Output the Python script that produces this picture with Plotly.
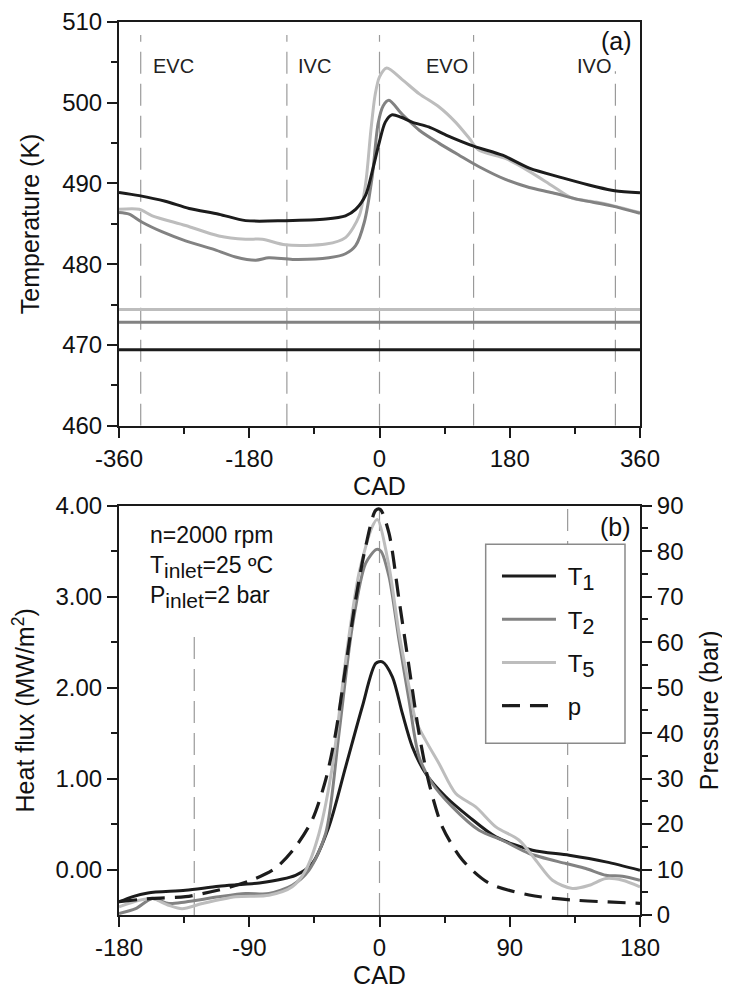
import plotly.graph_objects as go

# ---------------- data: panel (a) temperatures ----------------
t1_cad = [-360, -332, -296, -263, -222, -185, -130, -74, -47, -33, -19, -10, 0, 8, 17, 30, 45, 68, 92, 131, 170, 207, 253, 299, 325, 360]
t1_temp = [488.9, 488.5, 487.8, 486.9, 486.2, 485.4, 485.4, 485.6, 486.0, 486.8, 488.6, 491.5, 495.2, 497.6, 498.5, 498.2, 497.6, 497.0, 496.0, 494.6, 493.5, 491.9, 490.7, 489.6, 489.1, 488.85]

t2_cad = [-360, -346, -328, -300, -268, -231, -199, -171, -153, -120, -70, -47, -33, -21, -10, -2, 5, 13, 31, 55, 82, 110, 137, 174, 207, 239, 276, 322, 360]
t2_temp = [486.4, 486.2, 485.2, 484.0, 482.9, 481.9, 480.9, 480.5, 480.8, 480.6, 480.8, 481.3, 482.3, 485.2, 490.9, 497.4, 499.6, 500.3, 498.6, 496.6, 495.0, 493.5, 492.1, 490.5, 489.5, 488.85, 488.0, 487.2, 486.3]

t5_cad = [-360, -332, -314, -268, -222, -185, -162, -130, -74, -47, -28, -19, -12, -6, 0, 10, 31, 55, 82, 105, 124, 137, 174, 207, 239, 266, 299, 325, 360]
t5_temp = [486.8, 486.8, 486.0, 484.8, 483.5, 483.1, 483.1, 482.4, 482.5, 483.3, 486.0, 490.1, 496.5, 501.0, 503.2, 504.3, 502.9, 501.1, 499.5, 497.6, 495.6, 494.15, 493.1, 491.5, 489.7, 488.2, 487.7, 487.2, 486.4]

# constant reference temperatures (horizontal lines)
flat_cad = [-360, 360]
t1_flat = [469.4, 469.4]
t2_flat = [472.8, 472.8]
t5_flat = [474.4, 474.4]

# valve events (CAD) and labels
valve_cad_a = [-330, -128, 0, 130, 326]
valve_labels = ["EVC", "IVC", "EVO", "IVO"]
valve_label_cad = [-284, -90, 93, 296]

# ---------------- data: panel (b) heat flux and pressure ----------------
h1_cad = [-180, -171, -160, -134, -111, -83, -58, -46.5, -35, -23.4, -11.9, -2.6, 2, 8.9, 15.8, 22.7, 31.9, 45.8, 61.9, 80.4, 105.7, 131, 156.4, 180]
h1_flux = [-0.356, -0.30, -0.257, -0.228, -0.184, -0.147, -0.063, 0.066, 0.469, 1.129, 1.79, 2.266, 2.284, 2.119, 1.716, 1.349, 1.056, 0.80, 0.579, 0.359, 0.212, 0.157, 0.084, -0.008]

h2_cad = [-180, -168.5, -157, -145.6, -134, -111, -92.5, -76.4, -60.3, -48.8, -37.2, -28, -18.8, -9.6, -2, 1, 6.6, 13.5, 20.4, 27.3, 36.5, 50.3, 68.8, 84.9, 103.4, 128.8, 142.6, 156.4, 167.9, 180]
h2_flux = [-0.484, -0.43, -0.319, -0.374, -0.356, -0.30, -0.264, -0.264, -0.173, -0.008, 0.396, 1.496, 2.669, 3.366, 3.52, 3.50, 3.219, 2.52, 1.86, 1.24, 0.946, 0.689, 0.432, 0.322, 0.176, 0.066, 0.011, -0.063, -0.074, -0.118]

h5_cad = [-180, -166, -157, -145.6, -136.4, -122.5, -99.4, -76.4, -60.3, -51, -41.8, -32.6, -23.4, -14.2, -5, -1.5, 6.6, 13.5, 20.4, 25, 31.9, 41.1, 52.7, 66.5, 80.4, 96.5, 108, 119.5, 133.3, 144.9, 156.4, 167.9, 180]
h5_flux = [-0.41, -0.338, -0.32, -0.393, -0.43, -0.374, -0.30, -0.283, -0.19, -0.008, 0.396, 1.129, 2.30, 3.256, 3.77, 3.85, 3.33, 2.60, 2.01, 1.64, 1.42, 1.166, 0.836, 0.689, 0.469, 0.322, 0.102, -0.118, -0.209, -0.173, -0.099, -0.118, -0.191]

p_cad = [-180, -157, -134, -111, -88, -71.8, -58, -46.5, -37.2, -30.3, -23.4, -16.5, -9.6, -2.6, 0.5, 6.6, 13.5, 20.4, 27.3, 34.2, 43.4, 57.3, 75.7, 103.4, 133.3, 180]
p_bar = [2.92, 3.66, 4.03, 5.5, 7.7, 10.3, 15.0, 20.9, 29.7, 40.0, 54.6, 69.3, 81.0, 89.0, 89.2, 83.9, 69.3, 54.6, 40.0, 29.0, 19.4, 12.1, 7.0, 4.4, 3.3, 2.57]

valve_cad_b = [-128, 0, 130]

# tick labels
xa_ticks = [-360, -180, 0, 180, 360]
xa_ticktext = ["-360", "-180", "0", "180", "360"]
xb_ticks = [-180, -90, 0, 90, 180]
xb_ticktext = ["-180", "-90", "0", "90", "180"]
ya_ticks = [460, 470, 480, 490, 500, 510]
yb_ticks = [0, 1, 2, 3, 4]
yp_ticks = [0, 10, 20, 30, 40, 50, 60, 70, 80, 90]

# ---------------- styling ----------------
C1, C2, C5 = "#1c1c1c", "#828282", "#bdbdbd"
FONT = "Liberation Sans, Arial, Helvetica, sans-serif"
AX = "#1a1a1a"
LW = 3


def sub(s, size):
    return "<sub><span style='font-size:%dpx'>%s</span></sub>" % (size, s)


fig = go.Figure()

# panel (a)
for x, y, c in [(flat_cad, t5_flat, C5), (flat_cad, t2_flat, C2), (flat_cad, t1_flat, C1)]:
    fig.add_trace(go.Scatter(x=x, y=y, mode="lines", line=dict(color=c, width=LW),
                             showlegend=False, xaxis="x", yaxis="y", hoverinfo="skip"))
for x, y, c in [(t5_cad, t5_temp, C5), (t2_cad, t2_temp, C2), (t1_cad, t1_temp, C1)]:
    fig.add_trace(go.Scatter(x=x, y=y, mode="lines", line=dict(color=c, width=LW, shape="spline", smoothing=0.8),
                             showlegend=False, xaxis="x", yaxis="y"))

# panel (b)
NB = "\u00a0"
fig.add_trace(go.Scatter(x=h1_cad, y=h1_flux, mode="lines", name=NB + "T" + sub("1", 22), legendgroup="a",
                         line=dict(color=C1, width=LW, shape="spline", smoothing=0.8), xaxis="x2", yaxis="y2"))
fig.add_trace(go.Scatter(x=h2_cad, y=h2_flux, mode="lines", name=NB + "T" + sub("2", 22), legendgroup="b",
                         line=dict(color=C2, width=LW, shape="spline", smoothing=0.8), xaxis="x2", yaxis="y2"))
fig.add_trace(go.Scatter(x=h5_cad, y=h5_flux, mode="lines", name=NB + "T" + sub("5", 22), legendgroup="c",
                         line=dict(color=C5, width=LW, shape="spline", smoothing=0.8), xaxis="x2", yaxis="y2"))
fig.add_trace(go.Scatter(x=p_cad, y=p_bar, mode="lines", name=NB + "p", legendgroup="d",
                         line=dict(color=C1, width=3.2, dash="18px,10px", shape="spline", smoothing=0.8),
                         xaxis="x2", yaxis="y3"))

# valve-event dashed lines
shapes = []
for v in valve_cad_a:
    top = 503.9 if v == 326 else 508.4
    shapes.append(dict(type="line", xref="x", yref="y", x0=v, x1=v, y0=460, y1=top,
                       line=dict(color="#9a9a9a", width=1.2, dash="22px,10px"), layer="below"))
for v in valve_cad_b:
    top = 2.6 if v == -128 else 4.0
    shapes.append(dict(type="line", xref="x2", yref="y2", x0=v, x1=v, y0=-0.5, y1=top,
                       line=dict(color="#9a9a9a", width=1.2, dash="22px,10px"), layer="below"))
# legend frame
shapes.append(dict(type="rect", xref="paper", yref="paper", x0=0.7038, x1=0.9712, y0=0.1923, y1=0.4151,
                   fillcolor="white", line=dict(color="#8a8a8a", width=1.5), layer="above"))

annotations = []
for lab, xc in zip(valve_labels, valve_label_cad):
    annotations.append(dict(text=lab, x=xc, y=504.6, xref="x", yref="y", showarrow=False,
                            font=dict(size=20, color="#222", family=FONT)))
annotations.append(dict(text="(a)", x=0.989, y=507.6, xref="paper", yref="y", xanchor="right",
                        showarrow=False, font=dict(size=25, color="#111", family=FONT)))
annotations.append(dict(text="(b)", x=0.986, y=3.77, xref="paper", yref="y2", xanchor="right",
                        showarrow=False, font=dict(size=25, color="#111", family=FONT)))
annotations.append(dict(text="n=2000 rpm<br>T" + sub("inlet", 21) + "=25 ºC<br>P" + sub("inlet", 21) + "=2 bar",
                        x=0.056, y=0.4424, xref="paper", yref="paper", xanchor="left", yanchor="top",
                        align="left", showarrow=False, font=dict(size=23, color="#111", family=FONT)))

tickfont = dict(size=24, color="#111", family=FONT)
titlefont = dict(size=25, color="#111", family=FONT)
common = dict(showline=True, linecolor=AX, linewidth=2, ticks="outside", ticklen=10, tickwidth=2,
              tickcolor=AX, showgrid=False, zeroline=False, tickfont=tickfont, automargin=False,
              ticklabeloverflow="allow")
minor_style = dict(ticklen=6, tickwidth=2, tickcolor=AX, ticks="outside")

fig.update_layout(
    template="none",
    width=722, height=982,
    margin=dict(l=111, r=90, t=14, b=75, autoexpand=False),
    paper_bgcolor="white", plot_bgcolor="white",
    font=dict(family=FONT, color="#111"),
    shapes=shapes, annotations=annotations,
    xaxis=dict(domain=[0, 1], anchor="y", range=[-360, 360], tickvals=xa_ticks, ticktext=xa_ticktext,
               minor=dict(tickvals=[-270, -90, 90, 270], **minor_style),
               mirror=True, title=dict(text="CAD", font=titlefont, standoff=4), **common),
    yaxis=dict(domain=[0.5479, 1], anchor="x", range=[460, 510], tickvals=ya_ticks,
               minor=dict(tickvals=[465, 475, 485, 495, 505], **minor_style),
               mirror=True, title=dict(text="Temperature (K)", font=titlefont, standoff=15), **common),
    xaxis2=dict(domain=[0, 1], anchor="y2", range=[-180, 180], tickvals=xb_ticks, ticktext=xb_ticktext,
                minor=dict(tickvals=[-135, -45, 45, 135], **minor_style),
                mirror=True, title=dict(text="CAD", font=titlefont, standoff=4), **common),
    yaxis2=dict(domain=[0, 0.4583], anchor="x2", range=[-0.5, 4.0], tickvals=yb_ticks,
                tickformat=".2f",
                minor=dict(tickvals=[0.5, 1.5, 2.5, 3.5], **minor_style),
                title=dict(text="Heat flux (MW/m<sup>2</sup>)", font=titlefont, standoff=25), **common),
    yaxis3=dict(overlaying="y2", side="right", anchor="x2", range=[0, 90], tickvals=yp_ticks,
                minor=dict(tickvals=[5, 15, 25, 35, 45, 55, 65, 75, 85], **minor_style),
                title=dict(text="Pressure (bar)", font=titlefont, standoff=18), **common),
    legend=dict(x=0.7255, y=0.4043, xanchor="left", yanchor="top", bgcolor="rgba(0,0,0,0)",
                borderwidth=0, font=dict(size=24, color="#111", family=FONT),
                tracegroupgap=9, itemwidth=54),
)

fig.write_html("out.html")
